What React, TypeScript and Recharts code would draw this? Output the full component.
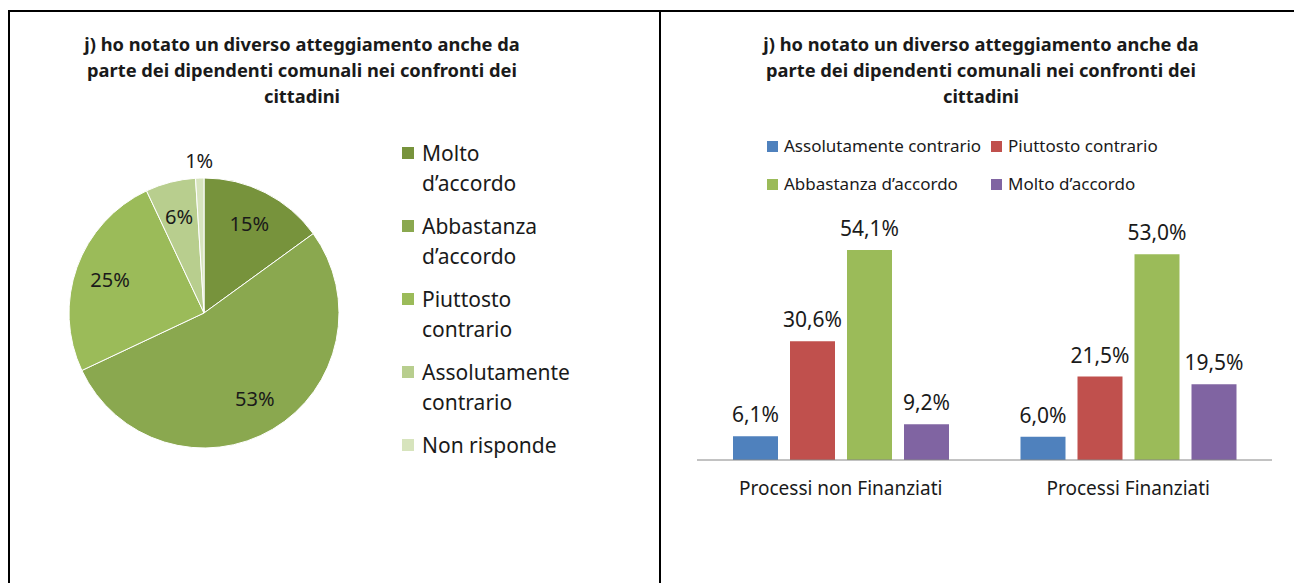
import { PieChart, Pie, Cell, BarChart, Bar, XAxis, YAxis, LabelList } from 'recharts';

const titleLines = [
  'j) ho notato un diverso atteggiamento anche da',
  'parte dei dipendenti comunali nei confronti dei',
  'cittadini',
];

// pie
const pieNames = ['Molto d’accordo', 'Abbastanza d’accordo', 'Piuttosto contrario', 'Assolutamente contrario', 'Non risponde'];
const pieValues = [15, 53, 25, 6, 1];
const pieColors = ['#77933C', '#8AA84F', '#9BBB59', '#B8CE8E', '#D7E4BD'];
const pieLegendLines = [
  ['Molto', 'd’accordo'],
  ['Abbastanza', 'd’accordo'],
  ['Piuttosto', 'contrario'],
  ['Assolutamente', 'contrario'],
  ['Non risponde'],
];

// bars
const categories = ['Processi non Finanziati', 'Processi Finanziati'];
const seriesNames = ['Assolutamente contrario', 'Piuttosto contrario', 'Abbastanza d’accordo', 'Molto d’accordo'];
const seriesColors = ['#4F81BD', '#C0504D', '#9BBB59', '#8064A2'];
const assolutamente = [6.1, 6.0];
const piuttosto = [30.6, 21.5];
const abbastanza = [54.1, 53.0];
const molto = [9.2, 19.5];

const FONT = '"Noto Sans", sans-serif';
const RADIAN = Math.PI / 180;

function Title({ left }: { left: number }) {
  return (
    <div
      style={{
        position: 'absolute', left, top: 23, width: 480, textAlign: 'center',
        fontWeight: 700, fontSize: 18.3, lineHeight: '26px', color: '#1a1a1a', whiteSpace: 'nowrap',
      }}
    >
      {titleLines.map((l) => <div key={l}>{l}</div>)}
    </div>
  );
}

const renderPieLabel = (props: any) => {
  const { cx, cy, midAngle, outerRadius, value } = props;
  const r = value < 3 ? outerRadius + 18 : outerRadius * 0.74;
  const x = cx + r * Math.cos(-midAngle * RADIAN);
  const y = cy + r * Math.sin(-midAngle * RADIAN);
  return (
    <text x={x} y={y} textAnchor="middle" dominantBaseline="central" fontSize={20} fill="#1a1a1a" fontFamily={FONT}>
      {value}%
    </text>
  );
};

const fmt = (v: any) => Number(v).toFixed(1).replace('.', ',') + '%';

export default function App() {
  const pieData = pieNames.map((name, i) => ({ name, value: pieValues[i] }));
  const barData = categories.map((name, i) => ({
    name,
    s0: assolutamente[i],
    s1: piuttosto[i],
    s2: abbastanza[i],
    s3: molto[i],
  }));

  return (
    <div style={{ position: 'relative', width: 1294, height: 575, fontFamily: FONT, overflow: 'hidden' }}>
      {/* table borders */}
      <div style={{ position: 'absolute', left: 0, top: 2, width: 1294, height: 2, background: '#000' }} />
      <div style={{ position: 'absolute', left: 0, top: 2, width: 2, height: 573, background: '#000' }} />
      <div style={{ position: 'absolute', left: 651, top: 2, width: 2, height: 573, background: '#000' }} />

      <Title left={54} />
      <Title left={733} />

      <div style={{ position: 'absolute', left: 0, top: 0 }}>
        <PieChart width={652} height={575}>
          <Pie
            data={pieData}
            dataKey="value"
            nameKey="name"
            cx={191}
            cy={300}
            outerRadius={135}
            startAngle={90}
            endAngle={-270}
            stroke="#fff"
            strokeWidth={1}
            labelLine={false}
            label={renderPieLabel}
            isAnimationActive={false}
          >
            {pieData.map((_, i) => (
              <Cell key={`cell-${i}`} fill={pieColors[i]} />
            ))}
          </Pie>
        </PieChart>
      </div>

      {/* pie legend */}
      <div style={{ position: 'absolute', left: 394, top: 130, fontSize: 21, lineHeight: '30px', color: '#1a1a1a' }}>
        {pieLegendLines.map((lines, i) => (
          <div key={i} style={{ display: 'flex', marginBottom: 13 }}>
            <div style={{ width: 12, height: 12, background: pieColors[i], marginTop: 9, marginRight: 8 }} />
            <div>{lines.map((l) => <div key={l}>{l}</div>)}</div>
          </div>
        ))}
      </div>

      <div style={{ position: 'absolute', left: 652, top: 0 }}>
        <BarChart
          width={642}
          height={575}
          data={barData}
          margin={{ top: 219, right: 30, bottom: 93, left: 37 }}
          barCategoryGap="12.4%"
          barGap={12}
        >
          <XAxis
            dataKey="name"
            axisLine={{ stroke: '#868686' }}
            tickLine={false}
            tickMargin={16}
            tick={{ fontSize: 19, fill: '#1a1a1a', fontFamily: FONT }}
          />
          <YAxis hide domain={[0, 60]} />
          {seriesNames.map((n, i) => (
            <Bar key={n} dataKey={`s${i}`} name={n} fill={seriesColors[i]} barSize={45} isAnimationActive={false}>
              <LabelList dataKey={`s${i}`} position="top" offset={14} formatter={fmt} fontSize={21} fill="#1a1a1a" fontFamily={FONT} />
            </Bar>
          ))}
        </BarChart>
      </div>

      {/* bar legend */}
      <div
        style={{
          position: 'absolute', left: 759, top: 127, display: 'grid', gridTemplateColumns: '224px auto',
          rowGap: 16, fontSize: 17, lineHeight: '22px', color: '#1a1a1a',
        }}
      >
        {seriesNames.map((n, i) => (
          <div key={n} style={{ display: 'flex', alignItems: 'center', whiteSpace: 'nowrap' }}>
            <div style={{ width: 11, height: 11, background: seriesColors[i], marginRight: 6 }} />
            {n}
          </div>
        ))}
      </div>
    </div>
  );
}
